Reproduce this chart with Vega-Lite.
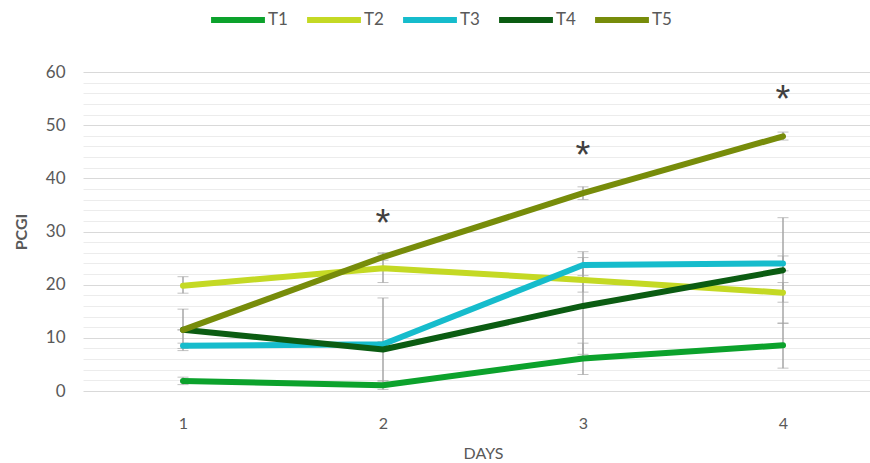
{
  "$schema": "https://vega.github.io/schema/vega-lite/v6.json",
  "width": 787,
  "height": 319,
  "autosize": {"type": "none"},
  "padding": {"left": 83, "top": 72, "right": 0, "bottom": 72},
  "background": "white",
  "config": {
    "view": {"stroke": null},
    "font": "Lato",
    "axis": {"labelFont": "Lato", "titleFont": "Lato", "labelColor": "#595959", "titleColor": "#595959"}
  },
  "datasets": {
    "series": [
      {"series": "T1", "day": 1, "value": 1.9, "lo": 1.2, "hi": 2.6},
      {"series": "T1", "day": 2, "value": 1.1, "lo": 0.3, "hi": 1.9},
      {"series": "T1", "day": 3, "value": 6.1, "lo": 3.1, "hi": 9.0},
      {"series": "T1", "day": 4, "value": 8.6, "lo": 4.3, "hi": 12.8},
      {"series": "T2", "day": 1, "value": 19.8, "lo": 18.4, "hi": 21.5},
      {"series": "T2", "day": 2, "value": 23.1, "lo": 20.4, "hi": 26.0},
      {"series": "T2", "day": 3, "value": 20.9, "lo": 18.6, "hi": 23.2},
      {"series": "T2", "day": 4, "value": 18.5, "lo": 16.7, "hi": 20.4},
      {"series": "T3", "day": 1, "value": 8.5, "lo": 8.0, "hi": 9.0},
      {"series": "T3", "day": 2, "value": 8.8, "lo": 8.3, "hi": 9.3},
      {"series": "T3", "day": 3, "value": 23.7, "lo": 21.7, "hi": 26.2},
      {"series": "T3", "day": 4, "value": 24.0, "lo": 22.6, "hi": 25.4},
      {"series": "T4", "day": 1, "value": 11.5, "lo": 7.6, "hi": 15.4},
      {"series": "T4", "day": 2, "value": 7.8, "lo": 1.9, "hi": 17.5},
      {"series": "T4", "day": 3, "value": 16.0, "lo": 6.9, "hi": 25.1},
      {"series": "T4", "day": 4, "value": 22.7, "lo": 12.7, "hi": 32.6},
      {"series": "T5", "day": 1, "value": 11.5, "lo": 11.5, "hi": 11.5},
      {"series": "T5", "day": 2, "value": 25.2, "lo": 24.6, "hi": 25.8},
      {"series": "T5", "day": 3, "value": 37.2, "lo": 36.0, "hi": 38.4},
      {"series": "T5", "day": 4, "value": 47.9, "lo": 47.2, "hi": 48.7}
    ],
    "stars": [
      {"day": 2, "value": 31.3, "label": "*"},
      {"day": 3, "value": 44, "label": "*"},
      {"day": 4, "value": 54.5, "label": "*"}
    ]
  },
  "layer": [
    {
      "data": {"name": "series"},
      "mark": {"type": "errorbar", "ticks": {"size": 11, "color": "#a6a6a6", "strokeWidth": 1.5}, "rule": {"color": "#a6a6a6", "strokeWidth": 1.5}},
      "encoding": {
        "x": {"field": "day", "type": "quantitative", "scale": {"domain": [0.5, 4.435], "nice": false, "zero": false},
          "axis": {"values": [1, 2, 3, 4], "grid": false, "domain": false, "ticks": false, "labelFontSize": 16, "labelPadding": 24, "title": "DAYS", "titleFontSize": 16, "titleFontWeight": "normal", "titlePadding": 14, "titleX": 400, "format": "d"}},
        "y": {"field": "lo", "type": "quantitative", "scale": {"domain": [0, 60], "nice": false},
          "axis": {"values": [0,2,4,6,8,10,12,14,16,18,20,22,24,26,28,30,32,34,36,38,40,42,44,46,48,50,52,54,56,58,60],
            "tickCount": 40,
            "labelOverlap": false,
            "labelExpr": "datum.value % 10 === 0 ? datum.label : ''",
            "gridColor": {"condition": {"test": "datum.value % 10 === 0", "value": "#d9d9d9"}, "value": "#ececec"},
            "domain": false, "ticks": false, "labelFontSize": 17, "labelPadding": 18,
            "title": "PCGI", "titleFontSize": 16, "titleFontWeight": "bold", "titlePadding": 16}},
        "y2": {"field": "hi"}
      }
    },
    {
      "data": {"name": "series"},
      "mark": {"type": "line", "strokeWidth": 6, "strokeCap": "round", "strokeJoin": "round"},
      "encoding": {
        "x": {"field": "day", "type": "quantitative"},
        "y": {"field": "value", "type": "quantitative"},
        "color": {"field": "series", "type": "nominal",
          "scale": {"domain": ["T1", "T2", "T3", "T4", "T5"], "range": ["#0ca22c", "#c4d924", "#16bccc", "#0b5c12", "#778c0a"]},
          "legend": {"orient": "none", "legendX": 125, "legendY": -82, "direction": "horizontal", "title": null,
            "symbolType": "stroke", "symbolSize": 2900, "symbolStrokeWidth": 6, "labelFontSize": 17, "labelColor": "#595959", "labelOffset": 0, "columnPadding": 7}}
      }
    },
    {
      "data": {"name": "stars"},
      "mark": {"type": "text", "fontSize": 38, "color": "#404040", "baseline": "middle", "font": "Liberation Sans"},
      "encoding": {
        "x": {"field": "day", "type": "quantitative"},
        "y": {"field": "value", "type": "quantitative"},
        "text": {"field": "label"}
      }
    }
  ]
}
